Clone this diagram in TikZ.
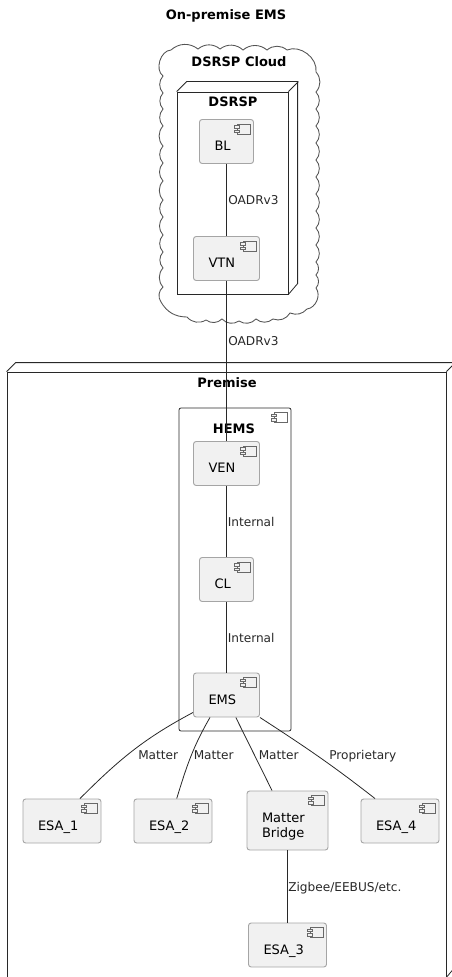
\documentclass[tikz,border=0pt]{standalone}
\usepackage{fontspec}
\setmainfont{DejaVu Sans}
\usetikzlibrary{positioning}
\definecolor{edgeblack}{RGB}{40,40,40}
\definecolor{compfill}{RGB}{241,241,241}
\definecolor{compline}{RGB}{165,165,165}
\newcommand{\bodyfont}{\fontsize{9.75}{11.25}\selectfont}
\newcommand{\lblfont}{\fontsize{9.1}{11}\selectfont}
\tikzset{
  comp/.style  ={rectangle, rounded corners=2pt, draw=compline, line width=0.7pt, fill=compfill,
                 inner xsep=11.25pt, inner ysep=0pt, align=left, text width=#1, font=\bodyfont,
                 text height=23.25pt, text depth=9.75pt},
  comp/.default=27pt,
  tallcomp/.style={comp=38.25pt, text depth=21pt},
  frontbox/.style={rectangle, draw=edgeblack, line width=0.6pt, inner sep=0pt},
  boxtitle/.style={font=\bodyfont\bfseries, inner sep=0pt},
  link/.style  ={draw=edgeblack, line width=0.6pt},
  iconline/.style={draw=edgeblack!70, line width=0.35pt},
  lbl/.style   ={font=\lblfont, anchor=base west, inner sep=0pt, text=edgeblack},
  cloudline/.style={draw=edgeblack!80, line width=0.65pt}
}
\begin{document}
\begin{tikzpicture}[x=0.75pt,y=-0.75pt,
  compicon/.pic={
    \draw[iconline] (-13,0) rectangle (0,10);
    \draw[iconline, fill=compfill] (-16,1.5) rectangle (-11,4);
    \draw[iconline, fill=compfill] (-16,6) rectangle (-11,8.5);
  }]
\clip (0,0) rectangle (452,977);

% Title
\node[boxtitle] (title) at (226,16) {On-premise EMS};

% Cloud outline, clockwise from the top left
\draw[cloudline] (171,50) to[bend left=40] (198,49) to[bend left=40] (220,49)
  to[bend left=40] (243,50) to[bend left=40] (267,50) to[bend left=40] (287,50)
  to[bend left=60] (316,72) to[bend left=42] (316,92) to[bend left=42] (316,109)
  to[bend left=42] (316,126) to[bend left=42] (316,143) to[bend left=42] (316,160)
  to[bend left=42] (316,177) to[bend left=42] (316,194) to[bend left=42] (316,211)
  to[bend left=42] (316,228) to[bend left=42] (316,245) to[bend left=42] (316,262)
  to[bend left=42] (316,275) to[bend left=42] (316,288) to[bend left=60] (307,309)
  to[bend left=35] (290,313) to[bend left=40] (273,319) to[bend left=40] (256,319)
  to[bend left=40] (239,321) to[bend left=40] (222,319) to[bend left=40] (206,320)
  to[bend left=40] (187,317) to[bend left=30] (161,302) to[bend left=42] (163,287)
  to[bend left=42] (163,268) to[bend left=42] (163,252) to[bend left=42] (163,235)
  to[bend left=42] (163,217) to[bend left=42] (163,200) to[bend left=42] (163,181)
  to[bend left=42] (163,163) to[bend left=42] (163,146) to[bend left=42] (163,126)
  to[bend left=42] (163,109) to[bend left=42] (163,93) to[bend left=42] (163,76)
  to[bend left=70] (171,50);
\node[boxtitle] (cloudname) at (239,62) {DSRSP Cloud};

% DSRSP box
\node[frontbox, minimum width=83.25pt, minimum height=151.5pt] (dsrsp) at (232.5,193) {};
\draw[link] (dsrsp.north west) -- ++(10,-10) -- ++(111,0) -- ++(0,202) -- (dsrsp.south east);
\draw[link] (dsrsp.north east) -- ++(10,-10);
\node[boxtitle] (dsrspname) at (233,102) {DSRSP};

% Premise box
\node[frontbox, minimum width=329.25pt, minimum height=453.75pt] (premise) at (226.5,674.5) {};
\draw[link] (premise.north west) -- ++(9,-9) -- ++(439,0) -- ++(0,605) -- (premise.south east);
\draw[link] (premise.north east) -- ++(9,-9);
\node[boxtitle] (premisename) at (227,383) {Premise};

% HEMS box
\node[frontbox, rounded corners=1.5pt, minimum width=84pt, minimum height=242.25pt] (hems) at (235,569.5) {};
\node[boxtitle] (hemsname) at (234,429) {HEMS};
\pic at ([shift={(-4,5)}]hems.north east) {compicon};

% Components
\node[comp=18pt] (bl) at (226.5,141.5) {BL};
\node[comp] (vtn) at (226.5,258.5) {VTN};
\node[comp] (ven) at (226.5,463.5) {VEN};
\node[comp=18pt] (cl) at (226.5,579.5) {CL};
\node[comp] (ems) at (226.5,695) {EMS};
\node[comp=36pt] (esa1) at (62,821) {ESA\_1};
\node[comp=36pt] (esa2) at (173,821) {ESA\_2};
\node[tallcomp] (bridge) at (287.5,820.5) {Matter\\Bridge};
\node[comp=36pt] (esa4) at (400,821) {ESA\_4};
\node[comp=36pt] (esa3) at (287.5,945) {ESA\_3};
\foreach \n in {bl,vtn,ven,cl,ems,esa1,esa2,bridge,esa4,esa3}{
  \pic at ([shift={(-4,5)}]\n.north east) {compicon};
}

% Connectors
\draw[link] (bl) -- (vtn);
\draw[link] (vtn) -- (ven);
\draw[link] (ven) -- (cl);
\draw[link] (cl) -- (ems);
\draw[link] ([yshift=3.75pt]ems.south west) to[out=208,in=45] ([xshift=13.5pt]esa1.north);
\draw[link] ([xshift=-12.4pt]ems.south) to[out=240,in=73] ([xshift=2.8pt]esa2.north);
\draw[link] ([xshift=7pt]ems.south) -- ([xshift=-11.6pt]bridge.north);
\draw[link] (ems.south east) to[out=327,in=142] ([xshift=-18.75pt]esa4.north);
\draw[link] (bridge) -- (esa3);

% Connector labels
\node[lbl] (oadrtop) at (228,204.5) {OADRv3};
\node[lbl] (oadrlow) at (228,345) {OADRv3};
\node[lbl] (inttop) at (227.5,526) {Internal};
\node[lbl] (intlow) at (227.5,642) {Internal};
\node[lbl] (matterone) at (138,759.5) {Matter};
\node[lbl] (mattertwo) at (193.5,759.5) {Matter};
\node[lbl] (matterthree) at (258.5,759.5) {Matter};
\node[lbl] (propr) at (329,759.5) {Proprietary};
\node[lbl] (zigbee) at (288,891.5) {Zigbee/EEBUS/etc.};
\end{tikzpicture}
\end{document}
